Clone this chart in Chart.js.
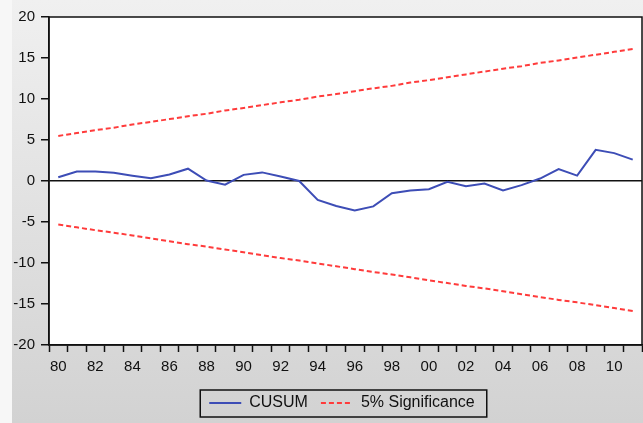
<!DOCTYPE html>
<html>
<head>
<meta charset="utf-8">
<script src="https://cdn.jsdelivr.net/npm/chart.js@4.4.1/dist/chart.umd.min.js"></script>
<style>
  html, body { margin: 0; padding: 0; background: #f7f7f7; }
  #cusumChart { display: block; }
</style>
</head>
<body>
<canvas id="cusumChart" width="643" height="423"></canvas>
<script>
// years 1980 .. 2011, shown as two-digit labels
const years = ["80", "81", "82", "83", "84", "85", "86", "87", "88", "89",
    "90", "91", "92", "93", "94", "95", "96", "97", "98", "99",
    "00", "01", "02", "03", "04", "05", "06", "07", "08", "09",
    "10", "11"];

const cusum = [0.45, 1.15, 1.15, 1.0, 0.65, 0.35, 0.8, 1.5, 0.05, -0.45,
    0.75, 1.05, 0.55, 0.0, -2.3, -3.05, -3.6, -3.1, -1.5, -1.15,
    -1.0, -0.1, -0.65, -0.3, -1.15, -0.5, 0.3, 1.45, 0.65, 3.8,
    3.4, 2.6];

const upper5 = [5.5, 5.85, 6.2, 6.5, 6.9, 7.2, 7.55, 7.9, 8.2, 8.6,
    8.9, 9.25, 9.6, 9.9, 10.3, 10.6, 10.95, 11.3, 11.6, 12.0,
    12.3, 12.65, 13.0, 13.35, 13.7, 14.0, 14.4, 14.7, 15.05, 15.4,
    15.75, 16.1];

const lower5 = [-5.3, -5.65, -6.0, -6.3, -6.65, -7.0, -7.35, -7.7, -8.0, -8.35,
    -8.7, -9.05, -9.4, -9.7, -10.05, -10.4, -10.75, -11.1, -11.4, -11.75,
    -12.1, -12.45, -12.8, -13.1, -13.45, -13.8, -14.15, -14.5, -14.8, -15.15,
    -15.5, -15.85];

const yTicks = [-20, -15, -10, -5, 0, 5, 10, 15, 20];

const canvas = document.getElementById("cusumChart");
const ctx = canvas.getContext("2d");
const font = "'Liberation Sans', Arial, sans-serif";

// gray panel behind the plot, white plot area, frame and legend box
const panelPlugin = {
    id: "panel",
    afterLayout(chart) {
        // centre the legend under the plot area rather than the canvas
        chart.legend.left += 21;
        chart.legend.right += 21;
    },
    beforeDraw(chart) {
        const c = chart.ctx;
        const a = chart.chartArea;
        c.save();
        const g = c.createLinearGradient(0, 0, 0, chart.height);
        g.addColorStop(0, "#f0f0f0");
        g.addColorStop(1, "#d2d2d2");
        c.fillStyle = g;
        c.fillRect(12, 0, chart.width - 12, chart.height);
        c.fillStyle = "#ffffff";
        c.fillRect(a.left, a.top, a.right - a.left, a.bottom - a.top);
        c.restore();
    },
    afterDraw(chart) {
        const c = chart.ctx;
        const a = chart.chartArea;
        c.save();
        c.strokeStyle = "#111111";
        c.lineWidth = 1.5;
        c.strokeRect(a.left, a.top, a.right - a.left, a.bottom - a.top);
        const boxes = chart.legend.legendHitBoxes;
        if (boxes && boxes.length) {
            const left = Math.min(...boxes.map(b => b.left)) - 9;
            const right = Math.max(...boxes.map(b => b.left + b.width)) + 12;
            const mid = boxes[0].top + boxes[0].height / 2;
            c.lineWidth = 1.5;
            c.strokeRect(left, mid - 13, right - left, 27);
        }
        c.restore();
    }
};

new Chart(ctx, {
    type: "line",
    data: {
        labels: years,
        datasets: [{
            label: "CUSUM",
            data: cusum,
            borderColor: "#3d4db6",
            borderWidth: 2,
            pointRadius: 0,
            tension: 0,
            fill: false
        }, {
            label: "5% Significance",
            data: upper5,
            borderColor: "#ff3b3b",
            borderWidth: 2,
            borderDash: [5, 3],
            pointRadius: 0,
            fill: false
        }, {
            label: "5% Significance (lower)",
            data: lower5,
            borderColor: "#ff3b3b",
            borderWidth: 2,
            borderDash: [5, 3],
            pointRadius: 0,
            fill: false
        }]
    },
    plugins: [panelPlugin],
    options: {
        responsive: false,
        animation: false,
        devicePixelRatio: 1,
        layout: {
            padding: { left: 0, right: 1, top: 17, bottom: 2 }
        },
        plugins: {
            legend: {
                display: true,
                position: "bottom",
                labels: {
                    color: "#111111",
                    font: { family: font, size: 16 },
                    usePointStyle: true,
                    pointStyle: "line",
                    pointStyleWidth: 32,
                    padding: 13,
                    filter: item => item.datasetIndex < 2,
                    generateLabels: chart => {
                        const items = Chart.defaults.plugins.legend.labels.generateLabels(chart);
                        items.forEach(item => {
                            item.lineDash = chart.data.datasets[item.datasetIndex].borderDash || [];
                        });
                        return items;
                    }
                }
            },
            tooltip: { enabled: false }
        },
        scales: {
            x: {
                type: "category",
                offset: true,
                afterFit: scale => { scale.height = 37; },
                grid: {
                    offset: true,
                    drawOnChartArea: false,
                    drawTicks: true,
                    tickLength: 7,
                    tickColor: "#111111",
                    tickWidth: 1.5
                },
                border: { display: true, color: "#111111", width: 1.5 },
                ticks: {
                    autoSkip: false,
                    maxRotation: 0,
                    padding: 6,
                    color: "#111111",
                    font: { family: font, size: 15 },
                    callback: (v, i) => (i % 2 === 0 ? years[i] : "")
                }
            },
            y: {
                min: -20,
                max: 20,
                afterFit: scale => { scale.width = 49; },
                afterBuildTicks: scale => {
                    scale.ticks = yTicks.map(v => ({ value: v }));
                },
                grid: {
                    color: c => (c.tick && c.tick.value === 0 ? "#111111" : "rgba(0,0,0,0)"),
                    lineWidth: 1.5,
                    tickLength: 8,
                    tickColor: "#111111",
                    tickWidth: 1.5
                },
                border: { display: true, color: "#111111", width: 1.5 },
                ticks: {
                    padding: 6,
                    color: "#111111",
                    font: { family: font, size: 15 }
                }
            }
        }
    }
});
</script>
</body>
</html>
